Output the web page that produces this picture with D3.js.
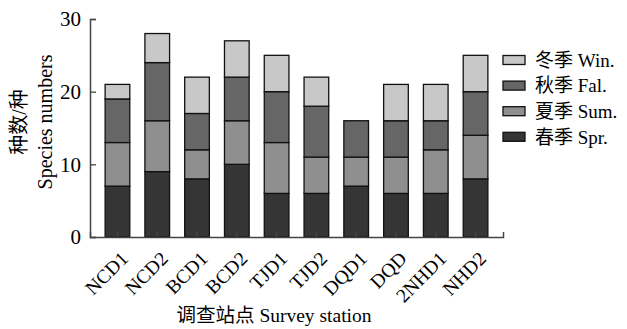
<!DOCTYPE html>
<html><head><meta charset="utf-8">
<script src="https://cdn.jsdelivr.net/npm/d3@7/dist/d3.min.js"></script>
<style>body{margin:0;background:#fff}svg{display:block}</style>
</head><body><svg id="c" width="627" height="329"></svg>
<script>
const stations = ["NCD1","NCD2","BCD1","BCD2","TJD1","TJD2","DQD1","DQD","2NHD1","NHD2"];
const spring = [7,9,8,10,6,6,7,6,6,8];
const summer = [6,7,4,6,7,5,4,5,6,6];
const fall   = [6,8,5,6,7,7,5,5,4,6];
const winter = [2,4,5,5,5,4,0,5,5,5];
const seriesNames = ["春季 Spr.","夏季 Sum.","秋季 Fal.","冬季 Win."];
const seriesColors = ["#353535","#8f8f8f","#666666","#c8c8c8"];
const yTicks = [0,10,20,30];

const font = "'Liberation Serif','Times New Roman','Noto Sans CJK SC',serif";
const svg = d3.select("#c");
const x = d3.scaleBand().domain(stations).range([90,503]).paddingInner(0.38).paddingOuter(0.38);
const y = d3.scaleLinear().domain([0,30]).range([237,19]);

const rows = stations.map((s,i)=>({st:s,k0:spring[i],k1:summer[i],k2:fall[i],k3:winter[i]}));
const stack = d3.stack().keys(["k0","k1","k2","k3"])(rows);

stack.forEach((layer,li)=>{
  svg.append("g").selectAll("rect").data(layer).join("rect")
    .attr("x",d=>x(d.data.st))
    .attr("y",d=>y(d[1]))
    .attr("width",x.bandwidth())
    .attr("height",d=>y(d[0])-y(d[1]))
    .attr("fill",seriesColors[li])
    .attr("stroke","#111")
    .attr("stroke-width",1.3)
    .attr("display",d=>d[1]-d[0]>0?null:"none");
});

// axes
const yAxis = svg.append("g").attr("transform","translate(90,0)")
  .call(d3.axisLeft(y).tickValues(yTicks).tickSize(-6).tickPadding(9));
const xAxis = svg.append("g").attr("transform","translate(0,237)")
  .call(d3.axisBottom(x).tickSize(-5).tickPadding(6));
[yAxis,xAxis].forEach(a=>{
  a.select(".domain").attr("stroke","#444").attr("stroke-width",1.5);
  a.selectAll(".tick line").attr("stroke","#444").attr("stroke-width",1.3);
  a.selectAll("text").attr("font-family",font).attr("fill","#000");
});
yAxis.selectAll("text").attr("font-size",21);
xAxis.selectAll("text").attr("font-size",19.5)
  .attr("text-anchor","end")
  .attr("transform","translate(-2,9) rotate(-45)")
  .attr("dy","0.7em");

// axis titles
svg.append("text").attr("transform","translate(26,122) rotate(-90)")
  .attr("text-anchor","middle").attr("font-family",font).attr("font-size",20)
  .text("种数/种");
svg.append("text").attr("transform","translate(52,122) rotate(-90)")
  .attr("text-anchor","middle").attr("font-family",font).attr("font-size",20)
  .text("Species numbers");
svg.append("text").attr("x",274).attr("y",322)
  .attr("text-anchor","middle").attr("font-family",font).attr("font-size",19.5)
  .text("调查站点 Survey station");

// legend (reverse order)
const leg = svg.append("g");
[3,2,1,0].forEach((si,i)=>{
  const cy = 60 + i*25.6;
  leg.append("rect").attr("x",503).attr("y",cy-4.5).attr("width",22).attr("height",9)
    .attr("fill",seriesColors[si]).attr("stroke","#111").attr("stroke-width",1.3);
  leg.append("text").attr("x",535).attr("y",cy).attr("dy","0.36em")
    .attr("font-family",font).attr("font-size",19).text(seriesNames[si]);
});
</script></body></html>
